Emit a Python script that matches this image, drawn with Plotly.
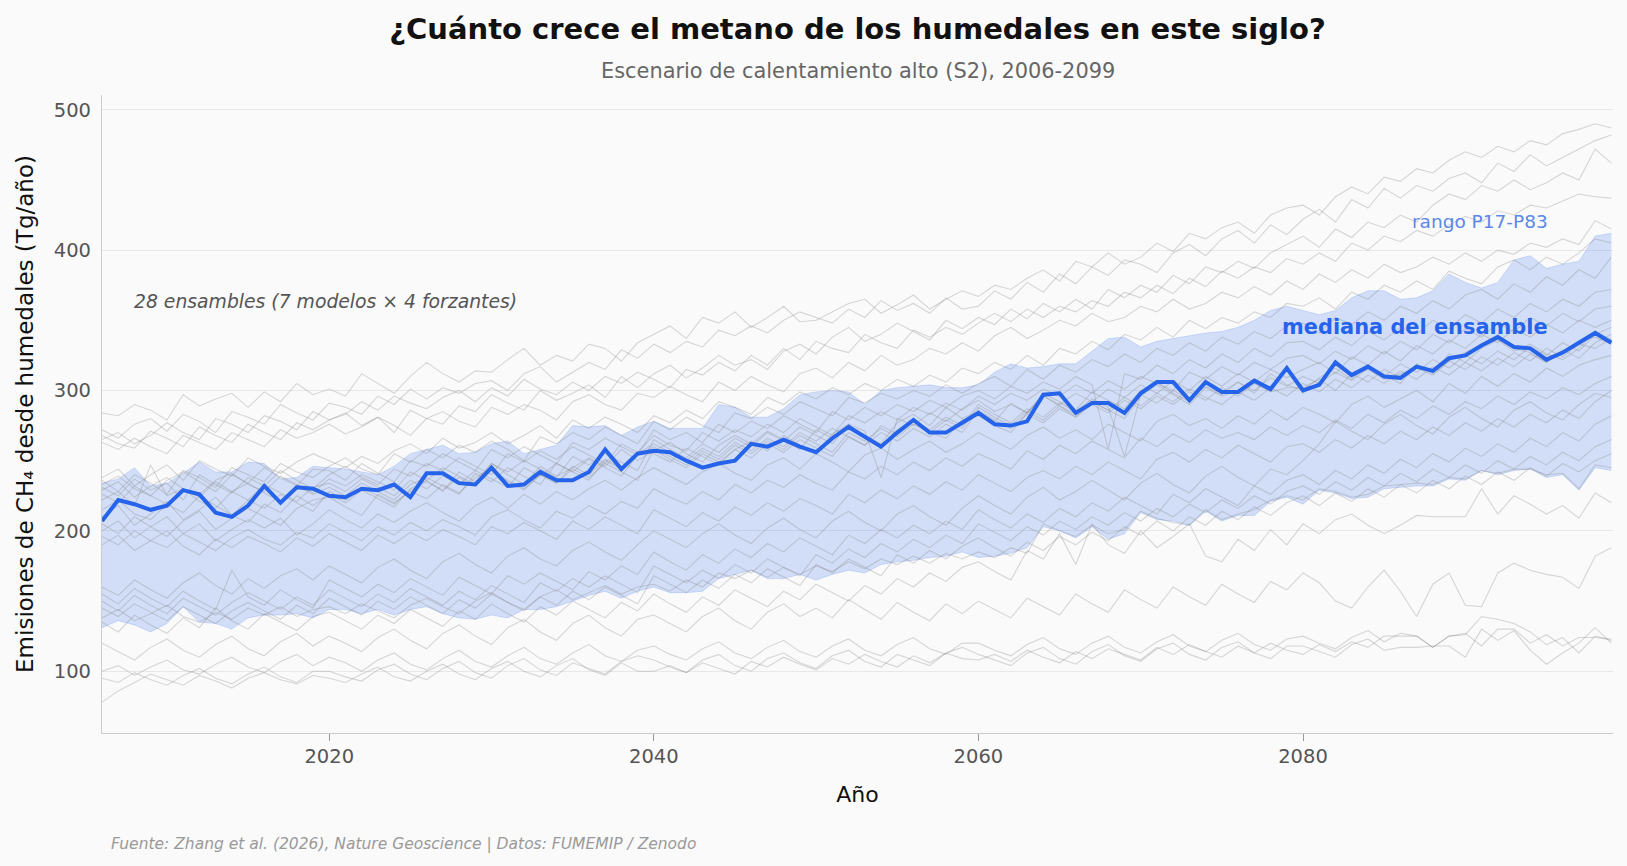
import plotly.graph_objects as go

years = list(range(2006, 2100))

median = [207, 222, 219, 215, 218, 229, 226, 213, 210, 218,
          232, 220, 231, 230, 225, 224, 230, 229, 233, 224,
          241, 241, 234, 233, 245, 232, 233, 242, 236, 236,
          242, 258, 244, 255, 257, 256, 250, 245, 248, 250,
          262, 260, 265, 260, 256, 266, 274, 267, 260, 270,
          279, 270, 270, 277, 284, 276, 275, 278, 297, 298,
          284, 291, 291, 284, 298, 306, 306, 293, 306, 299,
          299, 307, 301, 316, 300, 304, 320, 311, 317, 310,
          309, 317, 314, 323, 325, 332, 338, 331, 330, 322,
          327, 334, 341, 334]

p83 = [234, 237, 245, 232, 234, 241, 249, 242, 242, 249,
       248, 237, 238, 246, 245, 244, 242, 240, 246, 255,
       258, 261, 255, 256, 262, 264, 255, 258, 261, 275,
       274, 275, 268, 274, 278, 273, 273, 273, 290, 288,
       281, 281, 287, 297, 299, 300, 299, 290, 300, 302,
       303, 304, 302, 302, 304, 313, 319, 316, 317, 319,
       319, 328, 337, 338, 331, 335, 337, 339, 341, 342,
       345, 350, 357, 360, 357, 354, 357, 366, 371, 371,
       365, 366, 371, 383, 377, 373, 377, 393, 396, 387,
       390, 392, 410, 412]

p17 = [131, 136, 133, 128, 134, 146, 135, 134, 130, 138,
       140, 140, 141, 138, 144, 144, 141, 144, 140, 144,
       146, 141, 138, 137, 140, 138, 144, 144, 146, 150,
       154, 157, 152, 157, 160, 156, 156, 157, 166, 169,
       172, 166, 166, 169, 165, 169, 172, 170, 176, 178,
       179, 181, 182, 185, 181, 182, 184, 188, 203, 200,
       195, 203, 194, 198, 213, 208, 207, 204, 214, 207,
       211, 211, 221, 224, 219, 229, 227, 223, 224, 230,
       231, 232, 232, 237, 236, 243, 240, 243, 244, 238,
       240, 229, 245, 243]

members = {
    "T1": [284, 282, 290, 286, 279, 297, 289, 294, 298, 288,
           299, 292, 305, 297, 301, 296, 312, 305, 298, 310,
           320, 312, 306, 314, 313, 322, 330, 318, 325, 321,
           333, 330, 321, 334, 340, 346, 337, 352, 348, 356,
           345, 352, 360, 349, 350, 356, 362, 365, 355, 361,
           368, 358, 365, 371, 367, 375, 372, 380, 386, 378,
           392, 388, 398, 390, 395, 405, 399, 412, 408, 416,
           420, 412, 425, 430, 432, 425, 438, 445, 440, 452,
           449, 458, 455, 464, 470, 466, 474, 470, 478, 475,
           483, 486, 490, 487],
    "T2": [272, 266, 276, 280, 271, 283, 278, 270, 285, 281,
           276, 290, 284, 279, 291, 288, 283, 296, 290, 301,
           294, 302, 298, 305, 307, 300, 312, 317, 306, 313,
           320, 315, 329, 323, 333, 327, 335, 331, 343, 339,
           346, 341, 350, 356, 352, 348, 358, 352, 364, 357,
           362, 355, 366, 358, 360, 371, 365, 377, 370, 383,
           376, 388, 382, 393, 390, 384, 398, 404, 396, 408,
           414, 405, 418, 411, 422, 429, 420, 436, 430, 444,
           437, 446, 442, 451, 455, 448, 462, 456, 468, 460,
           466, 472, 478, 482],
    "T3": [268, 262, 259, 271, 266, 260, 274, 268, 263, 276,
           270, 265, 277, 272, 279, 284, 275, 281, 270, 286,
           280, 276, 289, 285, 297, 291, 286, 300, 293, 298,
           304, 295, 310, 302, 312, 318, 309, 316, 325, 318,
           322, 315, 328, 333, 326, 338, 345, 335, 340, 348,
           342, 336, 350, 344, 352, 347, 358, 351, 362, 356,
           365, 358, 372, 366, 375, 370, 382, 376, 388, 384,
           392, 387, 398, 404, 410, 402, 415, 409, 420, 416,
           425, 420, 432, 440, 436, 446, 442, 450, 443, 448,
           455, 450, 472, 462],
    "T4": [265, 270, 262, 268, 277, 270, 265, 280, 276, 270,
           282, 278, 272, 285, 279, 283, 292, 286, 296, 291,
           287, 295, 300, 292, 302, 296, 308, 301, 297, 306,
           300, 310, 305, 313, 308, 302, 315, 311, 320, 314,
           325, 318, 330, 322, 335, 330, 327, 340, 334, 330,
           343, 338, 345, 340, 348, 355, 349, 358, 352, 360,
           356, 364, 360, 370, 366, 375, 369, 380, 374, 385,
           380, 388, 384, 394, 390, 398, 392, 405, 400, 410,
           406, 414, 410, 418, 424, 420, 428, 425, 432, 430,
           435, 440, 438, 437],
    "T5": [263, 258, 266, 260, 255, 268, 263, 258, 270, 265,
           260, 272, 266, 270, 276, 269, 274, 281, 275, 268,
           280, 285, 278, 274, 288, 283, 290, 286, 279, 292,
           297, 290, 286, 298, 295, 303, 297, 292, 306, 300,
           310, 304, 299, 312, 316, 309, 320, 314, 325, 318,
           322, 330, 326, 334, 328, 339, 345, 337, 343, 350,
           346, 355, 349, 352, 360, 356, 365, 358, 362, 370,
           366, 374, 368, 378, 372, 383, 377, 386, 380, 390,
           384, 388, 395, 390, 398, 392, 400, 397, 405, 402,
           408, 404, 421, 415],
    "U1": [238, 244, 232, 240, 247, 236, 250, 244, 239, 252,
           246, 241, 249, 255, 250, 245, 253, 248, 257, 262,
           255, 266, 259, 263, 270, 262, 268, 275, 266, 279,
           273, 281, 276, 270, 282, 277, 286, 280, 292, 288,
           283, 295, 290, 299, 294, 302, 297, 305, 300, 308,
           303, 311, 306, 316, 312, 320, 315, 325, 318, 330,
           326, 335, 329, 340, 336, 345, 338, 350, 344, 352,
           348, 356, 352, 362, 360, 366, 358, 370, 365, 375,
           370, 378, 372, 385, 380, 376, 388, 393, 386, 395,
           390, 398, 408, 405],
    "U2": [236, 228, 240, 234, 226, 243, 238, 231, 245, 240,
           235, 248, 242, 238, 246, 252, 244, 240, 255, 249,
           258, 252, 261, 256, 264, 258, 250, 267, 262, 270,
           265, 274, 268, 262, 278, 272, 281, 275, 270, 284,
           280, 288, 283, 292, 287, 282, 295, 291, 298, 294,
           300, 296, 304, 298, 305, 310, 303, 315, 308, 318,
           313, 322, 317, 326, 320, 330, 325, 334, 328, 338,
           333, 342, 337, 346, 348, 341, 352, 347, 356, 350,
           360, 355, 364, 358, 368, 372, 365, 376, 370, 381,
           375, 386, 380, 395],
    "U3": [233, 239, 230, 225, 236, 242, 235, 228, 240, 234,
           245, 238, 232, 244, 243, 236, 248, 241, 235, 250,
           246, 255, 249, 243, 258, 252, 260, 254, 248, 263,
           258, 266, 260, 254, 272, 265, 270, 263, 276, 270,
           278, 273, 282, 276, 270, 285, 279, 288, 282, 290,
           285, 293, 288, 296, 300, 294, 303, 298, 306, 301,
           310, 304, 258, 312, 308, 318, 312, 322, 316, 326,
           320, 330, 324, 334, 335, 329, 338, 332, 342, 336,
           345, 340, 350, 344, 354, 348, 358, 352, 362, 356,
           365, 360, 370, 372],
    "U4": [231, 225, 237, 229, 234, 222, 240, 233, 227, 238,
           232, 243, 236, 230, 240, 246, 238, 233, 244, 239,
           248, 243, 252, 246, 240, 255, 249, 257, 251, 260,
           254, 248, 262, 256, 268, 261, 257, 270, 264, 272,
           267, 276, 270, 280, 274, 268, 282, 277, 285, 279,
           288, 283, 291, 286, 296, 290, 298, 293, 301, 296,
           304, 298, 307, 301, 310, 305, 300, 313, 308, 317,
           311, 320, 315, 323, 325, 319, 328, 322, 332, 326,
           335, 329, 340, 334, 344, 338, 348, 342, 352, 346,
           355, 349, 358, 360],
    "U5": [229, 235, 224, 232, 238, 230, 226, 236, 241, 233,
           228, 239, 233, 227, 237, 232, 240, 235, 229, 242,
           236, 245, 239, 233, 248, 242, 250, 244, 238, 253,
           247, 255, 249, 243, 265, 258, 252, 262, 256, 266,
           260, 270, 264, 274, 268, 262, 276, 271, 238, 280,
           275, 284, 278, 287, 293, 285, 290, 284, 296, 290,
           298, 292, 301, 295, 304, 298, 307, 300, 310, 303,
           312, 306, 315, 309, 315, 320, 312, 324, 318, 328,
           321, 332, 326, 336, 330, 340, 334, 344, 338, 347,
           341, 350, 345, 350],
    "U6": [226, 220, 232, 225, 219, 230, 224, 235, 228, 222,
           233, 227, 221, 231, 234, 228, 237, 231, 225, 236,
           230, 239, 233, 243, 237, 231, 245, 239, 248, 242,
           236, 250, 244, 255, 262, 256, 250, 259, 253, 263,
           257, 266, 260, 270, 264, 273, 267, 261, 275, 269,
           278, 272, 281, 275, 290, 283, 277, 287, 281, 291,
           285, 294, 288, 253, 297, 291, 300, 294, 303, 297,
           306, 300, 309, 303, 310, 305, 313, 307, 316, 310,
           319, 313, 322, 316, 325, 319, 328, 322, 331, 325,
           334, 328, 340, 345],
    "U7": [222, 228, 218, 247, 225, 230, 221, 216, 228, 234,
           227, 221, 232, 226, 231, 225, 234, 228, 222, 233,
           238, 232, 226, 241, 235, 245, 239, 233, 248, 242,
           251, 245, 239, 254, 260, 253, 247, 257, 251, 261,
           255, 264, 258, 268, 262, 256, 270, 264, 273, 267,
           276, 270, 279, 273, 288, 281, 275, 285, 279, 289,
           283, 292, 286, 295, 289, 298, 292, 301, 295, 290,
           299, 293, 302, 296, 305, 299, 308, 302, 311, 305,
           314, 308, 317, 311, 320, 314, 323, 317, 326, 320,
           329, 323, 334, 340],
    "U8": [215, 222, 212, 208, 219, 213, 225, 218, 211, 222,
           216, 226, 220, 214, 228, 222, 231, 225, 219, 229,
           235, 229, 238, 232, 243, 236, 230, 240, 234, 244,
           238, 248, 242, 236, 258, 251, 245, 255, 249, 258,
           252, 262, 256, 265, 259, 253, 267, 261, 270, 264,
           273, 267, 276, 270, 286, 279, 273, 283, 277, 287,
           281, 290, 284, 293, 287, 296, 290, 299, 293, 302,
           296, 305, 299, 302, 302, 308, 300, 312, 306, 315,
           309, 318, 312, 321, 315, 324, 318, 327, 321, 330,
           324, 333, 330, 337],
    "M1": [210, 218, 204, 212, 221, 208, 215, 224, 211, 206,
           219, 213, 225, 218, 226, 220, 229, 223, 217, 230,
           236, 228, 242, 235, 248, 240, 233, 246, 239, 245,
           252, 246, 258, 250, 257, 263, 255, 249, 261, 268,
           262, 271, 265, 258, 272, 266, 275, 268, 262, 277,
           283, 275, 288, 280, 285, 278, 291, 284, 298, 292,
           286, 299, 293, 287, 300, 306, 298, 292, 305, 299,
           306, 298, 312, 304, 300, 309, 316, 308, 318, 311,
           305, 319, 313, 326, 320, 330, 336, 328, 333, 326,
           322, 330, 342, 336],
    "M2": [205, 198, 210, 203, 196, 207, 214, 201, 209, 216,
           210, 204, 216, 222, 224, 217, 211, 226, 220, 228,
           223, 233, 227, 238, 244, 235, 229, 240, 234, 246,
           240, 251, 245, 256, 255, 249, 259, 253, 247, 258,
           264, 257, 268, 261, 255, 269, 276, 266, 259, 272,
           278, 270, 266, 279, 282, 275, 270, 284, 296, 289,
           281, 292, 286, 280, 296, 304, 297, 290, 302, 296,
           300, 308, 302, 314, 298, 306, 318, 310, 315, 308,
           312, 316, 311, 321, 327, 333, 340, 330, 327, 320,
           328, 335, 338, 333],
    "M3": [200, 207, 195, 203, 210, 198, 205, 193, 201, 208,
           202, 209, 197, 205, 215, 208, 202, 212, 206, 214,
           220, 213, 207, 218, 224, 216, 226, 219, 228, 222,
           230, 236, 229, 238, 245, 239, 233, 242, 248, 241,
           236, 247, 252, 244, 255, 249, 242, 254, 259, 251,
           258, 264, 256, 262, 270, 264, 258, 268, 274, 266,
           272, 265, 276, 270, 264, 278, 283, 275, 280, 273,
           282, 276, 286, 279, 288, 283, 277, 290, 296, 288,
           294, 300, 292, 305, 298, 310, 303, 312, 306, 316,
           310, 318, 322, 325],
    "M4": [196, 190, 200, 193, 188, 198, 192, 186, 195, 201,
           194, 190, 199, 195, 205, 199, 193, 203, 197, 206,
           200, 208, 203, 197, 210, 215, 208, 202, 214, 209,
           218, 212, 221, 216, 230, 224, 219, 228, 222, 233,
           227, 236, 231, 240, 234, 229, 242, 237, 246, 240,
           249, 243, 252, 246, 255, 250, 244, 257, 251, 261,
           255, 264, 258, 252, 266, 260, 269, 263, 272, 266,
           270, 265, 274, 268, 275, 270, 279, 273, 283, 277,
           286, 280, 289, 283, 292, 287, 296, 290, 299, 294,
           302, 297, 305, 310],
    "M5": [190, 197, 186, 193, 200, 189, 183, 194, 188, 196,
           191, 185, 195, 189, 198, 192, 186, 197, 191, 199,
           193, 201, 196, 190, 203, 198, 206, 200, 194, 207,
           201, 210, 204, 198, 215, 209, 203, 213, 207, 217,
           211, 220, 214, 223, 218, 212, 226, 220, 229, 223,
           232, 226, 235, 229, 240, 234, 228, 238, 243, 237,
           246, 240, 249, 243, 237, 251, 256, 249, 258, 252,
           261, 255, 249, 260, 262, 256, 265, 259, 268, 262,
           271, 265, 274, 268, 277, 271, 280, 274, 283, 277,
           286, 280, 292, 300],
    "LM1": [160, 154, 165, 158, 152, 163, 170, 161, 155, 166,
            159, 168, 173, 165, 175, 169, 163, 174, 180, 172,
            166, 178, 184, 176, 170, 182, 188, 180, 175, 186,
            192, 185, 179, 190, 200, 194, 188, 198, 205, 197,
            191, 202, 209, 201, 195, 207, 214, 206, 200, 212,
            218, 210, 204, 216, 225, 218, 212, 224, 231, 222,
            228, 236, 229, 222, 234, 241, 233, 227, 239, 246,
            238, 232, 244, 240, 250, 262, 278, 271, 265, 276,
            283, 275, 269, 281, 288, 280, 274, 286, 292, 284,
            279, 290, 298, 295],
    "LM2": [155, 148, 159, 152, 146, 157, 150, 144, 172, 153,
            147, 158, 151, 145, 165, 159, 153, 162, 156, 166,
            160, 154, 167, 161, 155, 168, 162, 170, 164, 158,
            171, 165, 175, 169, 185, 178, 172, 183, 177, 187,
            181, 191, 185, 195, 189, 183, 197, 191, 201, 195,
            204, 198, 207, 201, 215, 208, 202, 212, 206, 216,
            210, 220, 214, 224, 218, 212, 226, 220, 230, 224,
            218, 232, 226, 236, 240, 233, 243, 237, 247, 241,
            251, 245, 255, 249, 259, 253, 262, 256, 266, 260,
            270, 264, 276, 282],
    "LM3": [150, 143, 154, 147, 141, 152, 146, 140, 149, 156,
            150, 144, 153, 147, 158, 152, 146, 155, 149, 159,
            153, 147, 157, 151, 161, 155, 149, 163, 157, 166,
            160, 168, 162, 156, 175, 169, 163, 172, 166, 176,
            170, 180, 174, 168, 183, 177, 187, 181, 191, 185,
            194, 188, 197, 191, 205, 199, 193, 203, 197, 207,
            201, 210, 204, 213, 207, 216, 210, 219, 213, 222,
            216, 225, 219, 228, 232, 226, 235, 229, 238, 232,
            241, 235, 244, 238, 247, 241, 250, 244, 253, 247,
            256, 250, 260, 265],
    "LM4": [145, 139, 148, 142, 136, 146, 140, 134, 143, 149,
            143, 137, 147, 141, 152, 146, 140, 150, 144, 153,
            147, 141, 151, 145, 155, 149, 143, 153, 147, 157,
            151, 160, 154, 148, 168, 162, 156, 165, 159, 169,
            163, 173, 167, 161, 176, 170, 180, 174, 168, 183,
            177, 186, 180, 189, 195, 188, 182, 192, 186, 196,
            190, 199, 193, 203, 197, 207, 200, 210, 204, 214,
            208, 217, 211, 220, 225, 218, 227, 221, 230, 224,
            233, 227, 236, 230, 239, 233, 242, 236, 245, 239,
            248, 242, 250, 255],
    "LM5": [138, 144, 136, 141, 147, 139, 135, 142, 137, 145,
            140, 146, 139, 144, 146, 141, 148, 143, 138, 147,
            152, 146, 141, 150, 156, 149, 144, 153, 158, 151,
            156, 161, 155, 160, 162, 157, 165, 160, 170, 166,
            172, 167, 174, 169, 175, 171, 178, 173, 180, 176,
            182, 177, 184, 180, 185, 181, 188, 184, 205, 200,
            196, 204, 198, 201, 214, 209, 206, 204, 215, 208,
            212, 215, 222, 225, 222, 230, 228, 224, 226, 232,
            233, 234, 233, 238, 237, 243, 241, 244, 244, 240,
            241, 230, 247, 245],
    "L1": [135, 128, 140, 133, 127, 138, 131, 145, 136, 130,
           141, 135, 129, 139, 142, 136, 130, 140, 134, 144,
           138, 132, 143, 137, 148, 141, 135, 146, 140, 150,
           144, 138, 149, 143, 155, 148, 142, 153, 147, 158,
           152, 146, 157, 151, 162, 156, 150, 161, 155, 166,
           160, 170, 164, 174, 178, 171, 165, 186, 180, 198,
           176, 205, 190, 184, 200, 188, 196, 205, 182, 178,
           194, 186, 201, 190, 205, 198, 208, 212, 204, 198,
           204, 211, 210, 210, 210, 230, 212, 225, 219, 212,
           218, 209, 227, 220],
    "L2": [120, 114, 108, 117, 123, 115, 110, 119, 125, 116,
           111, 121, 127, 118, 125, 120, 114, 124, 130, 122,
           116, 127, 133, 125, 119, 131, 137, 128, 122, 134,
           140, 131, 125, 137, 140, 134, 128, 139, 145, 136,
           130, 142, 148, 139, 145, 138, 151, 144, 137, 149,
           142, 136, 148, 141, 150, 144, 138, 152, 146, 140,
           155, 148, 142, 158, 151, 145, 160, 153, 147, 162,
           155, 149, 164, 158, 170, 163, 150, 145, 160, 172,
           157, 139, 162, 170, 147, 146, 170, 177, 172, 169,
           167, 159, 182, 188],
    "B1": [100, 104, 97, 103, 108, 101, 98, 105, 110, 103,
           99, 107, 112, 104, 110, 106, 100, 108, 113, 105,
           101, 109, 115, 107, 103, 111, 117, 109, 105, 113,
           119, 111, 107, 115, 118, 112, 108, 116, 121, 113,
           109, 117, 122, 114, 110, 118, 123, 115, 111, 119,
           124, 116, 112, 120, 120, 115, 111, 119, 124, 116,
           112, 120, 125, 117, 113, 121, 126, 118, 114, 122,
           127, 119, 115, 123, 125, 120, 116, 124, 129, 121,
           127, 125, 117, 125, 126, 139, 137, 134, 128, 119,
           124, 113, 125, 122],
    "B2": [95, 92, 99, 94, 90, 97, 102, 95, 91, 98,
           103, 96, 92, 100, 100, 96, 93, 101, 105, 98,
           94, 102, 107, 99, 95, 104, 109, 101, 97, 106,
           102, 98, 107, 111, 108, 103, 99, 108, 112, 104,
           100, 109, 113, 106, 102, 111, 115, 107, 103, 112,
           108, 104, 113, 117, 112, 108, 104, 113, 117, 109,
           105, 114, 119, 111, 107, 116, 120, 112, 108, 117,
           121, 113, 109, 118, 118, 114, 110, 119, 123, 115,
           117, 117, 118, 118, 110, 130, 122, 129, 115, 105,
           113, 120, 131, 120],
    "B3": [78, 86, 92, 98, 94, 90, 97, 93, 88, 95,
           99, 94, 91, 97, 95, 92, 98, 103, 96, 93,
           100, 105, 98, 94, 102, 107, 100, 96, 104, 109,
           101, 97, 106, 100, 100, 104, 99, 106, 102, 98,
           107, 103, 110, 105, 101, 109, 105, 112, 107, 103,
           111, 106, 113, 109, 108, 112, 107, 115, 110, 106,
           114, 109, 116, 112, 108, 117, 112, 119, 114, 110,
           118, 113, 120, 115, 112, 119, 114, 121, 117, 125,
           125, 125, 117, 125, 127, 118, 130, 130, 120, 126,
           118, 124, 124, 123],
}

x_ticks = [2020, 2040, 2060, 2080]
y_ticks = [100, 200, 300, 400, 500]

BLUE = "#2563eb"
FONT = "DejaVu Sans"

fig = go.Figure()

# P17-P83 band
fig.add_trace(go.Scatter(x=years, y=p17, mode="lines",
                         line=dict(color="rgba(37,99,235,0.22)", width=0.8),
                         hoverinfo="skip", showlegend=False))
fig.add_trace(go.Scatter(x=years, y=p83, mode="lines", fill="tonexty",
                         fillcolor="rgba(37,99,235,0.19)",
                         line=dict(color="rgba(37,99,235,0.22)", width=0.8),
                         hoverinfo="skip", showlegend=False))

# ensemble members
for name, vals in members.items():
    n = min(len(vals), len(years))
    fig.add_trace(go.Scatter(x=years[:n], y=vals[:n], mode="lines",
                             line=dict(color="rgba(128,128,128,0.30)", width=1.1),
                             name=name, showlegend=False))

# median
fig.add_trace(go.Scatter(x=years, y=median, mode="lines",
                         line=dict(color=BLUE, width=4),
                         name="mediana", showlegend=False))

fig.update_layout(
    width=1627, height=866,
    margin=dict(l=102, r=14, t=95, b=133),
    paper_bgcolor="#fafafa", plot_bgcolor="#fafafa",
    font=dict(family=FONT, color="#333"),
    title=dict(text="<b>¿Cuánto crece el metano de los humedales en este siglo?</b>",
               x=0.5, xref="paper", xanchor="center",
               y=1 - 29 / 866, yref="container", yanchor="middle",
               font=dict(size=29, color="#111", family=FONT)),
    xaxis=dict(range=[2006, 2099.1], tickvals=x_ticks, ticktext=[str(v) for v in x_ticks],
               showgrid=False, zeroline=False,
               showline=True, linecolor="#cccccc", linewidth=1.2,
               ticks="outside", ticklen=7, tickcolor="#999", tickwidth=1,
               tickfont=dict(size=19.5, color="#555"),
               ticklabelstandoff=-2,
               title=dict(text="Año", font=dict(size=22, color="#111"), standoff=20)),
    yaxis=dict(range=[56, 510.5], tickvals=y_ticks,
               showgrid=True, gridcolor="rgba(0,0,0,0.07)", gridwidth=1, zeroline=False,
               showline=True, linecolor="#cccccc", linewidth=1.2,
               ticks="", tickfont=dict(size=19.5, color="#555"),
               ticklabelstandoff=6,
               title=dict(text="Emisiones de CH₄ desde humedales (Tg/año)",
                          font=dict(size=23, color="#111"), standoff=13)),
    annotations=[
        dict(text="Escenario de calentamiento alto (S2), 2006-2099",
             xref="paper", yref="paper", x=0.5, y=(733 - 70.5) / 638,
             xanchor="center", yanchor="middle", showarrow=False,
             font=dict(size=20.9, color="#666", family=FONT)),
        dict(text="<i>28 ensambles (7 modelos × 4 forzantes)</i>",
             x=2007.87, y=363.5, xanchor="left", yanchor="middle", showarrow=False,
             font=dict(size=18.8, color="#555", family=FONT)),
        dict(text="rango P17-P83",
             x=2095.2, y=420.6, xanchor="right", yanchor="middle", showarrow=False,
             font=dict(size=18.5, color="#5a87e8", family=FONT)),
        dict(text="<b>mediana del ensamble</b>",
             x=2095.2, y=345.0, xanchor="right", yanchor="middle", showarrow=False,
             font=dict(size=20.9, color=BLUE, family=FONT)),
        dict(text="<i>Fuente: Zhang et al. (2026), Nature Geoscience | Datos: FUMEMIP / Zenodo</i>",
             xref="paper", yref="paper", x=(109 - 102) / 1511, y=(733 - 843.5) / 638,
             xanchor="left", yanchor="middle", showarrow=False,
             font=dict(size=15.5, color="#999", family=FONT)),
    ],
)

fig.write_html("out.html")
